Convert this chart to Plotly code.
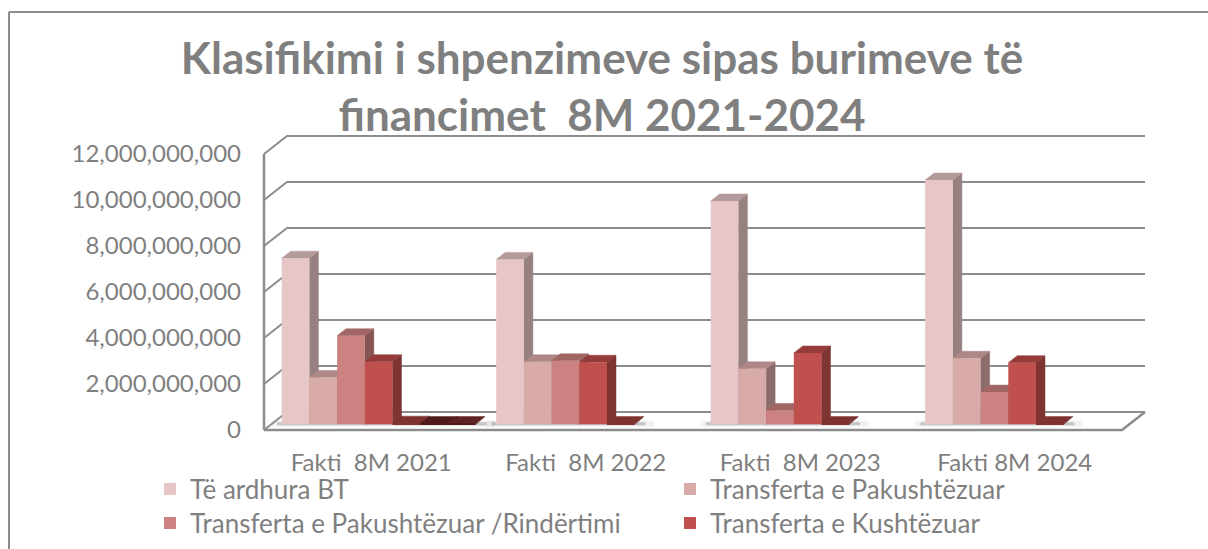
import plotly.graph_objects as go

categories = ["Fakti  8M 2021", "Fakti  8M 2022", "Fakti  8M 2023", "Fakti 8M 2024"]
te_ardhura_bt = [7.22e9, 7.17e9, 9.71e9, 10.62e9]
transferta_pakushtezuar = [2.04e9, 2.72e9, 2.41e9, 2.87e9]
transferta_rindertimi = [3.85e9, 2.76e9, 0.60e9, 1.40e9]
transferta_kushtezuar = [2.72e9, 2.70e9, 3.10e9, 2.68e9]
tjera_1 = [0.05e9, 0.03e9, 0.03e9, 0.03e9]
tjera_2 = [0.03e9, 0, 0, 0]
tjera_3 = [0.03e9, 0, 0, 0]
y_ticks = [0, 2e9, 4e9, 6e9, 8e9, 10e9, 12e9]

series = [
    ("Të ardhura BT", te_ardhura_bt, "#E6C6C7", "#968080", "#B49A9A"),
    ("Transferta e Pakushtëzuar", transferta_pakushtezuar, "#D9ABA8", "#8C6D6B", "#AE8886"),
    ("Transferta e Pakushtëzuar /Rindërtimi", transferta_rindertimi, "#CB8280", "#845553", "#A16664"),
    ("Transferta e Kushtëzuar", transferta_kushtezuar, "#C0504D", "#7D3432", "#953C3A"),
    ("Të tjera 1", tjera_1, "#7F3330", "#5A1E1C", "#7F3330"),
    ("Të tjera 2", tjera_2, "#521A18", "#521A18", "#521A18"),
    ("Të tjera 3", tjera_3, "#521A18", "#521A18", "#5E2220"),
]

W, H = 1208, 549
PH = 542              # plot height left after the legends push the bottom margin
BAND = 214.5          # px per category
BN = 23 / 1e9         # px per unit of value
X0, X_END = 264, 1122
GRID = "#8C8C8C"
FONT = "Lato, Carlito, sans-serif"
TXT = "#7F7F7F"

dx_floor = 23 / BAND
dy_floor = 18 / BN
dx_bar = 9 / BAND
dy_bar = 7 / BN
base = 5.7 / BN
w = 27.7 / BAND
first = (281.7 - X0) / BAND - 0.5

fig = go.Figure()


def line(xs, ys, color=GRID, width=2):
    fig.add_trace(go.Scatter(x=xs, y=ys, mode="lines", line=dict(color=color, width=width),
                             showlegend=False, hoverinfo="skip", xaxis="x", yaxis="y"))


def poly(xs, ys, color):
    fig.add_trace(go.Scatter(x=xs, y=ys, mode="lines", fill="toself", fillcolor=color,
                             line=dict(color=color, width=0.5), showlegend=False,
                             hoverinfo="skip", xaxis="x", yaxis="y"))


left = -0.5
right = left + (X_END - X0) / BAND
# walls and gridlines
for t in y_ticks:
    line([left, left + dx_floor, right + dx_floor], [t, t + dy_floor, t + dy_floor])
line([left, left], [0, y_ticks[-1]], width=2.5)
line([left, right, right + dx_floor], [0, 0, dy_floor], width=2.5)

# soft shadow on the floor
nseries = [7, 5, 5, 5]
for i, n in enumerate(nseries):
    a = i + first - 10 / BAND
    b = i + first + (n + 0.7) * w
    line([a, b], [base + 0.5 / BN] * 2, "rgba(120,120,120,0.10)", 6)
    line([a + 0.025, b - 0.04], [base + 0.5 / BN] * 2, "rgba(80,80,80,0.28)", 3)

# side and top faces, left to right
for i in range(len(categories)):
    for k, (name, vals, front, side, top) in enumerate(series):
        v = vals[i]
        if v <= 0:
            continue
        x1 = i + first + k * w
        x2 = x1 + w
        y1 = base + v
        poly([x2, x2 + dx_bar, x2 + dx_bar, x2, x2], [base, base + dy_bar, y1 + dy_bar, y1, base], side)
        poly([x1, x2, x2 + dx_bar, x1 + dx_bar, x1], [y1, y1, y1 + dy_bar, y1 + dy_bar, y1], top)

# front faces
legend_names = ["legend", "legend2", "legend3", "legend4"]
for k, (name, vals, front, side, top) in enumerate(series):
    fig.add_trace(go.Bar(
        x=[i + first + (k + 0.5) * w for i in range(len(categories))],
        y=vals, base=base, width=w, name=name,
        marker=dict(color=front, line=dict(width=0)),
        xaxis="x2", yaxis="y2",
        showlegend=k < 4,
        legend=legend_names[k] if k < 4 else None,
    ))

xr = [left - 6 / BAND, left + 888 / BAND]
yr = [-6 / BN, 300 / BN]
xdom = [258 / W, 1152 / W]
ydom = [1 - 436 / PH, 1 - 130 / PH]

leg = lambda x, y: dict(x=x / W, y=1 - y / PH, xanchor="left", yanchor="middle",
                        font=dict(family=FONT, size=26, color=TXT), bgcolor="rgba(0,0,0,0)")

fig.update_layout(
    width=W, height=H, autosize=False,
    margin=dict(l=0, r=0, t=0, b=0),
    paper_bgcolor="white", plot_bgcolor="rgba(0,0,0,0)",
    barmode="overlay",
    title=dict(text="Klasifikimi i shpenzimeve sipas burimeve të<br>financimet  8M 2021-2024",
               x=602 / W, xanchor="center", y=1 - 74 / H, yanchor="middle",
               font=dict(family=FONT, size=44, color="#7F7F7F", weight="bold")),
    xaxis=dict(domain=xdom, range=xr, tickmode="array", tickvals=list(range(4)), ticktext=categories,
               showgrid=False, zeroline=False, showline=False, ticks="",
               tickfont=dict(family=FONT, size=24, color=TXT), ticklabelstandoff=10),
    yaxis=dict(domain=ydom, range=yr, tickmode="array", tickvals=y_ticks, tickformat=",d",
               showgrid=False, zeroline=False, showline=False, ticks="",
               tickfont=dict(family=FONT, size=24, color=TXT), ticklabelstandoff=16),
    xaxis2=dict(domain=xdom, range=xr, overlaying="x", visible=False),
    yaxis2=dict(domain=ydom, range=yr, overlaying="y", visible=False),
    legend=leg(150, 489), legend2=leg(670, 489), legend3=leg(150, 523), legend4=leg(670, 523),
    shapes=[
        dict(type="line", xref="paper", yref="paper", x0=9 / W, x1=1, y0=1 - 12 / PH, y1=1 - 12 / PH,
             line=dict(color="#8C8C8C", width=2), layer="below"),
        dict(type="line", xref="paper", yref="paper", x0=9 / W, x1=9 / W, y0=-0.05, y1=1 - 12 / PH,
             line=dict(color="#8C8C8C", width=2), layer="below"),
    ],
)
fig.write_html("out.html", post_script="document.body.style.margin='0';",
               config={"displayModeBar": False})
